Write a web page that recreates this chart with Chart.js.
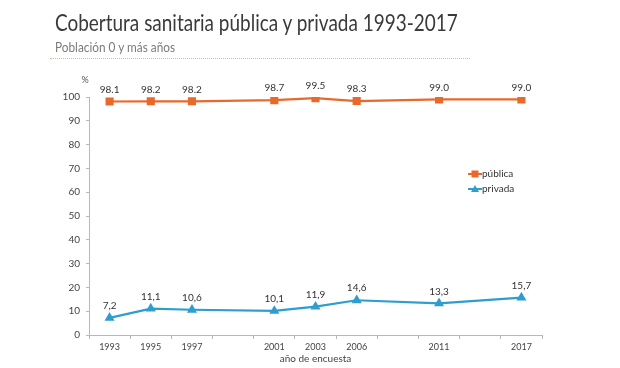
<!DOCTYPE html>
<html>
<head>
<meta charset="utf-8">
<script src="https://cdn.jsdelivr.net/npm/chart.js@4.4.0/dist/chart.umd.min.js"></script>
<style>
  html, body { margin: 0; padding: 0; background: #fff; }
  #wrap { position: relative; width: 620px; height: 368px; overflow: hidden; }
  #title {
    position: absolute; left: 55px; top: 8px; margin: 0;
    font-family: Lato, "Open Sans", sans-serif; font-weight: 400;
    font-size: 24px; line-height: 28px; color: #3a3a3a; white-space: nowrap;
    transform: scaleX(0.79); transform-origin: 0 0;
  }
  #subtitle {
    position: absolute; left: 55px; top: 39px; margin: 0;
    font-family: Lato, "Open Sans", sans-serif;
    font-size: 13px; line-height: 16px; color: #7a7a7a; white-space: nowrap;
    transform: scaleX(0.91); transform-origin: 0 0;
  }
  #rule {
    position: absolute; left: 50px; top: 58px; width: 420px; height: 0;
    border-top: 1px dotted #eab48c;
  }
  #chart { position: absolute; left: 0; top: 0; }
</style>
</head>
<body>
<div id="wrap">
  <canvas id="chart" width="620" height="368"></canvas>
  <div id="title">Cobertura sanitaria pública y privada 1993-2017</div>
  <div id="subtitle">Población 0 y más años</div>
  <div id="rule"></div>
</div>
<script>
// Datos (años de encuesta; huecos vacíos entre algunas encuestas)
const years = ['1993', '1995', '1997', '', '2001', '2003', '2006', '', '2011', '', '2017'];
const publica = [98.1, 98.2, 98.2, null, 98.7, 99.5, 98.3, null, 99.0, null, 99.0];
const privada = [7.2, 11.1, 10.6, null, 10.1, 11.9, 14.6, null, 13.3, null, 15.7];
const publicaLabels = ['98.1', '98.2', '98.2', '', '98.7', '99.5', '98.3', '', '99.0', '', '99.0'];
const privadaLabels = ['7,2', '11,1', '10,6', '', '10,1', '11,9', '14,6', '', '13,3', '', '15,7'];
const yTicks = [0, 10, 20, 30, 40, 50, 60, 70, 80, 90, 100];

const ORANGE = '#e8692a';
const BLUE = '#2e9dcf';
const AXIS = '#b8b8b8';
const FONT = 'Lato, "Open Sans", sans-serif';

// etiquetas de valores sobre cada punto
const valueLabels = {
  id: 'valueLabels',
  afterDatasetsDraw(chart) {
    const ctx = chart.ctx;
    ctx.save();
    ctx.font = '10px ' + FONT;
    ctx.fillStyle = '#333';
    ctx.textAlign = 'center';
    ctx.textBaseline = 'middle';
    chart.data.datasets.forEach((ds, i) => {
      const meta = chart.getDatasetMeta(i);
      meta.data.forEach((pt, j) => {
        const txt = ds.valueText[j];
        if (!txt || ds.data[j] == null) return;
        ctx.fillText(txt, pt.x, pt.y - 12);
      });
    });
    // "%" sobre el eje y
    ctx.font = '9px ' + FONT;
    ctx.fillStyle = '#555';
    ctx.fillText('%', chart.chartArea.left - 4, chart.chartArea.top - 17);
    ctx.restore();
  }
};

// leyenda dentro del área del gráfico
const innerLegend = {
  id: 'innerLegend',
  afterDraw(chart) {
    const ctx = chart.ctx;
    const x0 = chart.chartArea.left + 379;
    let y = chart.chartArea.top + 77;
    ctx.save();
    chart.data.datasets.forEach(ds => {
      ctx.strokeStyle = ds.borderColor;
      ctx.fillStyle = ds.borderColor;
      ctx.lineWidth = 2;
      ctx.beginPath();
      ctx.moveTo(x0, y);
      ctx.lineTo(x0 + 14, y);
      ctx.stroke();
      ctx.beginPath();
      if (ds.pointStyle === 'rect') {
        ctx.fillRect(x0 + 3.5, y - 3.5, 7, 7);
      } else {
        ctx.moveTo(x0 + 7, y - 4);
        ctx.lineTo(x0 + 11, y + 3);
        ctx.lineTo(x0 + 3, y + 3);
        ctx.closePath();
        ctx.fill();
      }
      ctx.font = '10px ' + FONT;
      ctx.fillStyle = '#333';
      ctx.textAlign = 'left';
      ctx.textBaseline = 'middle';
      ctx.fillText(ds.label, x0 + 14, y);
      y += 15;
    });
    ctx.restore();
  }
};

new Chart(document.getElementById('chart'), {
  type: 'line',
  data: {
    labels: years,
    datasets: [
      {
        label: 'pública',
        data: publica,
        valueText: publicaLabels,
        borderColor: ORANGE,
        backgroundColor: ORANGE,
        borderWidth: 2.2,
        pointStyle: 'rect',
        pointRadius: 4.2,
        spanGaps: true,
        tension: 0
      },
      {
        label: 'privada',
        data: privada,
        valueText: privadaLabels,
        borderColor: BLUE,
        backgroundColor: BLUE,
        borderWidth: 2.2,
        pointStyle: 'triangle',
        pointRadius: 3.6,
        spanGaps: true,
        tension: 0
      }
    ]
  },
  plugins: [valueLabels, innerLegend],
  options: {
    responsive: false,
    animation: false,
    layout: { padding: { top: 97, right: 78, left: 0, bottom: 0 } },
    plugins: {
      legend: { display: false },
      tooltip: { enabled: false }
    },
    scales: {
      x: {
        offset: true,
        grid: { display: true, drawOnChartArea: false, offset: true, tickLength: 4, color: AXIS },
        border: { color: AXIS },
        ticks: { color: '#444', font: { family: FONT, size: 9 }, padding: 3, autoSkip: false, maxRotation: 0 },
        title: { display: true, text: 'año de encuesta', color: '#444', font: { family: FONT, size: 10 }, padding: { top: 2, bottom: 3 } },
        afterFit: s => { s.height = 33; }
      },
      y: {
        min: 0,
        max: 100,
        afterBuildTicks: s => { s.ticks = yTicks.map(v => ({ value: v })); },
        grid: { display: true, drawOnChartArea: false, tickLength: 3, color: AXIS },
        border: { color: AXIS },
        ticks: { color: '#444', font: { family: FONT, size: 10 }, padding: 6 },
        afterFit: s => { s.width = 89; }
      }
    }
  }
});
</script>
</body>
</html>
